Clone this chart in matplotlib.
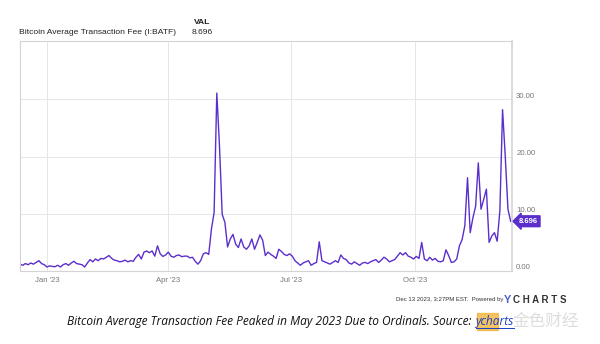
import numpy as np
import pandas as pd
import matplotlib
matplotlib.use('Agg')
import matplotlib.pyplot as plt
import matplotlib.dates as mdates
from matplotlib.transforms import ScaledTranslation

# Bitcoin average transaction fee (USD), sampled every second day
dates = pd.date_range('2022-12-12', periods=183, freq='2D')
fee = [
    1.2, 1.0, 1.3, 1.1, 1.4, 1.2, 1.5, 1.8, 1.3, 1.1,
    0.7, 0.9, 0.8, 0.75, 1.0, 0.7, 1.1, 1.3, 1.0, 1.4,
    1.7, 1.3, 1.2, 1.1, 0.7, 1.4, 2.0, 1.6, 2.1, 1.8,
    2.2, 2.1, 2.4, 2.7, 2.2, 1.9, 1.8, 1.6, 1.7, 1.9,
    1.6, 1.8, 1.7, 2.4, 2.9, 2.1, 3.3, 3.5, 3.2, 3.5,
    2.6, 4.4, 3.0, 2.55, 2.8, 3.3, 2.6, 2.4, 2.7, 2.8,
    2.5, 2.6, 2.6, 2.3, 2.4, 1.7, 1.2, 1.8, 3.0, 3.2,
    2.9, 7.3, 10.2, 31.1, 21.8, 9.9, 8.5, 4.2, 5.6, 6.4,
    4.7, 4.1, 5.6, 4.2, 3.8, 4.4, 5.6, 3.8, 5.0, 6.3,
    5.4, 2.7, 3.3, 2.9, 2.6, 2.2, 3.8, 3.4, 2.9, 2.7,
    3.0, 2.6, 1.8, 1.4, 1.0, 1.4, 1.6, 1.8, 1.0, 1.3,
    1.5, 5.1, 1.8, 1.6, 1.4, 1.2, 1.5, 1.8, 1.5, 2.8,
    2.2, 2.0, 1.4, 1.2, 1.6, 1.3, 1.0, 1.4, 1.5, 1.3,
    1.6, 1.8, 2.0, 1.5, 1.9, 2.4, 2.1, 1.6, 1.8, 2.0,
    2.6, 3.2, 2.8, 3.2, 2.6, 2.4, 2.1, 2.55, 2.2, 5.0,
    2.1, 1.8, 2.4, 1.9, 2.2, 1.7, 1.6, 1.8, 3.7, 2.7,
    1.5, 1.6, 2.1, 4.4, 5.5, 7.9, 16.3, 6.7, 9.3, 11.3,
    18.9, 10.8, 12.5, 14.3, 5.0, 6.1, 6.7, 5.2, 10.5, 28.2,
    20.0, 10.8, 8.696,
]
last_val = 8.696

ytick_vals = [0, 10, 20, 30]
xtick_dates = pd.to_datetime(['2023-01-01', '2023-04-01', '2023-07-01', '2023-10-01'])
xtick_labels = ["Jan '23", "Apr '23", "Jul '23", "Oct '23"]

purple = '#5b2fcc'
grid_c = '#e6e6e6'
text_c = '#777777'

plt.rcParams['font.family'] = ['Liberation Sans', 'DejaVu Sans']

fig = plt.figure(figsize=(6, 3.44), dpi=100)
ax = fig.add_axes([20/600, 1 - 271/344, 492/600, 230/344])

ax.plot(dates, fee, color=purple, lw=1.0, solid_joinstyle='round')

ax.set_xlim(pd.Timestamp('2022-12-12'), pd.Timestamp('2023-12-12'))
ax.set_ylim(0, 40.2)

ax.set_xticks(xtick_dates)
ax.set_xticklabels(xtick_labels)
ax.set_yticks(ytick_vals)
ax.set_yticklabels(['%.2f' % v for v in ytick_vals])
ax.yaxis.tick_right()
ax.tick_params(length=0, labelsize=5.6, labelcolor=text_c)
ax.tick_params(axis='x', pad=4)
ax.tick_params(axis='y', pad=3)
for lbl in ax.get_yticklabels():
    lbl.set_transform(lbl.get_transform() + ScaledTranslation(0, 3/72, fig.dpi_scale_trans))

ax.grid(True, color=grid_c, lw=0.7)
ax.set_axisbelow(True)
for s in ax.spines.values():
    s.set_color('#d4d4d4')
    s.set_linewidth(0.8)
ax.spines['right'].set_linewidth(1.2)

# last value tag
ax.annotate('%.3f' % last_val, xy=(dates[-1], last_val), xytext=(6, 0),
            textcoords='offset points', va='center', ha='left',
            fontsize=5.5, fontweight='bold', color='white',
            bbox=dict(boxstyle='larrow,pad=0.25', fc=purple, ec=purple),
            annotation_clip=False)

# header
fig.text(19/600, 1 - 33/344, 'Bitcoin Average Transaction Fee (I:BATF)', fontsize=6.1,
         color='#222222', va='center')
fig.text(202/600, 1 - 22/344, 'VAL', fontsize=6.1, fontweight='bold', color='#222222',
         va='center', ha='center')
fig.text(202/600, 1 - 33/344, '8.696', fontsize=6.1, color='#222222',
         va='center', ha='center')

# footer
fig.text(503/600, 1 - 300/344, 'Dec 13 2023, 3:27PM EST.  Powered by', fontsize=4.3,
         color='#333333', va='center', ha='right')
fig.text(504/600, 1 - 300/344, 'Y', fontsize=8, fontweight='bold', color='#4a5fd8',
         va='center', ha='left')
fig.text(513/600, 1 - 300/344, 'C H A R T S', fontsize=7, fontweight='bold',
         color='#333333', va='center', ha='left')

# watermark (drawn first so the caption sits on top)
fig.add_artist(plt.Rectangle((477/600, 1 - 330/344), 21/600, 17/344, color='#f0b43c', alpha=0.8))
fig.text(546/600, 1 - 321/344, '金色财经', fontsize=12, color='#dadada',
         family=['Noto Sans CJK SC', 'DejaVu Sans'], va='center', ha='center', alpha=0.9)

# caption, with the link placed right after the sentence
cap = fig.text(67/600, 1 - 322/344,
               'Bitcoin Average Transaction Fee Peaked in May 2023 Due to Ordinals. Source:',
               fontsize=8.6, style='italic', family=['Open Sans', 'DejaVu Sans'],
               color='#111111', va='center', ha='left')
fig.canvas.draw()
bb = cap.get_window_extent()
x0 = (bb.x1 + 4) / fig.bbox.width
link = fig.text(x0, 1 - 322/344, 'ycharts', fontsize=8.6, style='italic',
                family=['Open Sans', 'DejaVu Sans'], color='#1a3fbf', va='center', ha='left')
fig.canvas.draw()
lb = link.get_window_extent()
fig.add_artist(plt.Line2D([lb.x0 / fig.bbox.width, lb.x1 / fig.bbox.width],
                          [1 - 328/344, 1 - 328/344], color='#1a3fbf', lw=0.7))

fig.savefig('out.png', dpi=100)
